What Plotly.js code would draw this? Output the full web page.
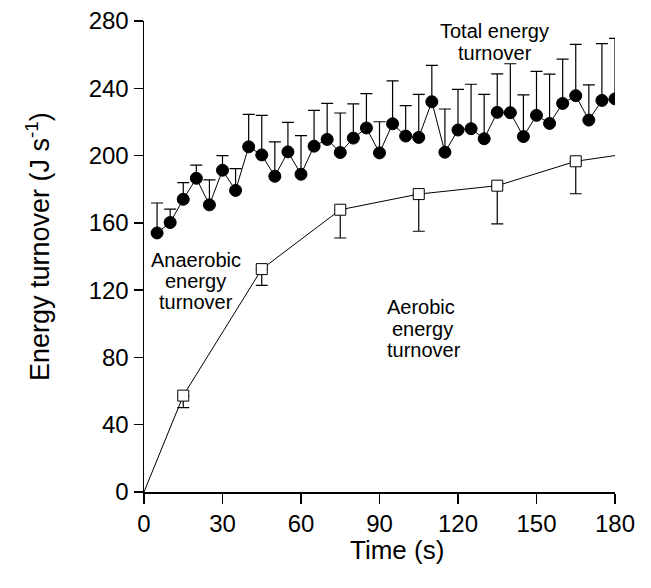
<!DOCTYPE html>
<html>
<head>
<meta charset="utf-8">
<script src="https://cdn.plot.ly/plotly-3.0.1.min.js"></script>
<style>html,body{margin:0;padding:0;background:#fff;}#chart{width:651px;height:588px;}</style>
</head>
<body>
<div id="chart"></div>
<script>
// Total energy turnover (mean, upward SD)
const totalTime = [5,10,15,20,25,30,35,40,45,50,55,60,65,70,75,80,85,90,95,100,105,110,115,120,125,130,135,140,145,150,155,160,165,170,175,180];
const totalMean = [154,160.2,174,186.5,170.7,191.3,179.3,205.2,200.4,187.7,202.2,188.9,205.6,209.6,201.8,210.4,216.4,201.6,218.9,211.6,210.8,232,202,215.2,216,210,225.7,225.5,211.3,223.9,219.1,231,235.6,221.1,232.8,233.7];
const totalSD = [17.8,8.0,9.9,7.8,14.8,8.7,12.9,19.3,23.5,20.5,17.5,22.9,21.3,21.4,23.5,20.3,20.4,18.5,25.5,18.1,25.6,21.6,25.7,24.2,26.4,26.4,22.9,29.1,24.8,26.2,29.3,26.3,30.5,20.9,33.7,36.0];

// Aerobic energy turnover (mean, downward SD)
const aerobicTime = [15,45,75,105,135,165];
const aerobicMean = [57.3,132.5,167.8,177.1,182.1,196.6];
const aerobicSD = [7.2,9.7,16.8,22.1,22.7,19.3];
// Aerobic curve (from origin to end of exercise)
const aerobicLineTime = [0,15,45,75,105,135,165,180];
const aerobicLineValue = [0,57.3,132.5,167.8,177.1,182.1,196.6,200];

const xTicks = [0,30,60,90,120,150,180];
const yTicks = [0,40,80,120,160,200,240,280];

const FONT = 'Liberation Sans, Arial, Helvetica, sans-serif';
const zeros = n => new Array(n).fill(0);

const traces = [
  {
    x: aerobicLineTime, y: aerobicLineValue, type: 'scatter', mode: 'lines',
    line: {color: '#000', width: 1}, hoverinfo: 'skip', showlegend: false
  },
  {
    x: aerobicTime, y: aerobicMean, type: 'scatter', mode: 'markers',
    marker: {symbol: 'square', size: 11, color: '#fff', line: {color: '#000', width: 1}},
    error_y: {type: 'data', symmetric: false, array: zeros(aerobicTime.length), arrayminus: aerobicSD,
              color: '#000', thickness: 1.2, width: 6},
    showlegend: false
  },
  {
    x: totalTime, y: totalMean, type: 'scatter', mode: 'lines+markers',
    line: {color: '#000', width: 1},
    marker: {symbol: 'circle', size: 12, color: '#000', line: {color: '#000', width: 1}},
    error_y: {type: 'data', symmetric: false, array: totalSD, arrayminus: zeros(totalTime.length),
              color: '#000', thickness: 1.2, width: 6},
    showlegend: false
  }
];

function ann(text, x, y) {
  return {text: text, x: x, y: y, xref: 'x', yref: 'y', showarrow: false, borderpad: 0,
          xanchor: 'center', yanchor: 'middle', font: {family: FONT, size: 20, color: '#000'}};
}

const layout = {
  width: 651, height: 588,
  margin: {l: 144, r: 36, t: 21, b: 96},
  paper_bgcolor: '#fff', plot_bgcolor: '#fff',
  font: {family: FONT, size: 24, color: '#000'},
  showlegend: false,
  xaxis: {
    range: [0, 180], tickvals: xTicks, ticktext: xTicks.map(String),
    showgrid: false, zeroline: false, showline: true, linecolor: '#000', linewidth: 1.5,
    ticks: 'outside', ticklen: 10, tickwidth: 1.5, tickcolor: '#000',
    tickfont: {family: FONT, size: 24, color: '#000'}
  },
  yaxis: {
    range: [0, 280], tickvals: yTicks, ticktext: yTicks.map(String),
    showgrid: false, zeroline: false, showline: true, linecolor: '#000', linewidth: 1.5,
    ticks: 'outside', ticklen: 9, tickwidth: 1.5, tickcolor: '#000',
    tickfont: {family: FONT, size: 24, color: '#000'}
  },
  annotations: [
    ann('Total energy', 134.1, 274),
    ann('turnover', 134.1, 260.7),
    ann('Anaerobic', 19.7, 138.2),
    ann('energy', 19.7, 125.7),
    ann('turnover', 19.7, 112.8),
    ann('Aerobic', 105.7, 109.7),
    ann('energy', 106.6, 97.2),
    ann('turnover', 106.9, 84.7),
    // axis titles
    {text: 'Time (s)', xref: 'paper', yref: 'paper', x: 0.537, y: -0.124, showarrow: false,
     xanchor: 'center', yanchor: 'middle', font: {family: FONT, size: 26, color: '#000'}},
    {text: 'Energy turnover (J s<sup>-1</sup>)', xref: 'paper', yref: 'paper', x: -0.225, y: 0.52,
     showarrow: false, textangle: -90, xanchor: 'center', yanchor: 'middle',
     font: {family: FONT, size: 27, color: '#000'}}
  ]
};

Plotly.newPlot('chart', traces, layout, {displayModeBar: false, staticPlot: true});
</script>
</body>
</html>
